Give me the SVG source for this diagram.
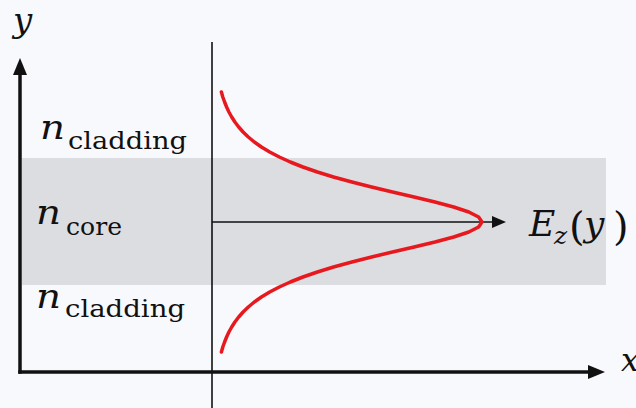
<svg xmlns="http://www.w3.org/2000/svg" width="636" height="408" viewBox="0 0 636 408">
  <defs>
    <style>
      .ax { stroke: #111; stroke-width: 3.5; fill: none; }
      .thin { stroke: #111; stroke-width: 1.6; fill: none; }
      .mi { font-family: "DejaVu Serif", serif; font-style: italic; fill: #111; }
      .up { font-family: "DejaVu Serif", serif; fill: #111; }
    </style>
    <marker id="headBig" viewBox="0 0 17 14" refX="0" refY="7" markerWidth="17" markerHeight="14" markerUnits="userSpaceOnUse" orient="auto">
      <path d="M0,0 L17,7 L0,14 z" fill="#111"/>
    </marker>
    <marker id="headSmall" viewBox="0 0 14 12" refX="0" refY="6" markerWidth="14" markerHeight="12" markerUnits="userSpaceOnUse" orient="auto">
      <path d="M0,0 L14,6 L0,12 z" fill="#111"/>
    </marker>
  </defs>
  <rect x="0" y="0" width="636" height="408" fill="#f8f9fd"/>
  <g id="core-band">
    <rect x="22" y="158" width="584" height="127" fill="#dcdde1"/>
  </g>
  <g id="connectors">
    <line class="thin" x1="212" y1="42" x2="212" y2="408"/>
    <line class="thin" x1="212" y1="222" x2="492" y2="222" marker-end="url(#headSmall)"/>
    <line class="ax" x1="20" y1="373.7" x2="20" y2="75" marker-end="url(#headBig)"/>
    <line class="ax" x1="18.3" y1="372" x2="588" y2="372" marker-end="url(#headBig)"/>
  </g>
  <g id="field-curve">
    <polyline fill="none" stroke="#e8191e" stroke-width="3.5" stroke-linecap="round" stroke-linejoin="round"
      points="221.4,92 222.8,97 224.6,102 226.6,107 228.9,112 231.7,117 234.9,122 238.7,127 243.1,132 248.3,137 254.3,142 261.4,147 269.7,152 279.3,157 290.3,162 302.9,167 317.4,172 333.5,177 351.9,182 371.6,187 392.5,192 414.1,197 435,202 453.7,207 468.8,212 478.6,217 482,222 478.6,227 468.8,232 453.7,237 435,242 414.1,247 392.5,252 371.6,257 351.9,262 333.5,267 317.4,272 302.9,277 290.3,282 279.3,287 269.7,292 261.4,297 254.3,302 248.3,307 243.1,312 238.7,317 234.9,322 231.7,327 228.9,332 226.6,337 224.6,342 222.8,347 221.4,352"/>
  </g>
  <g id="label-y">
    <text class="mi" x="13" y="32" font-size="34">y</text>
  </g>
  <g id="label-x">
    <text class="mi" x="621" y="371" font-size="32">x</text>
  </g>
  <g id="label-cladding-top">
    <text class="mi" x="40" y="139" font-size="34" textLength="25" lengthAdjust="spacingAndGlyphs">n</text>
    <text class="up" x="68" y="149" font-size="25" textLength="119" lengthAdjust="spacingAndGlyphs">cladding</text>
  </g>
  <g id="label-core">
    <text class="mi" x="36" y="224" font-size="34" textLength="25" lengthAdjust="spacingAndGlyphs">n</text>
    <text class="up" x="66" y="235" font-size="25" textLength="56" lengthAdjust="spacingAndGlyphs">core</text>
  </g>
  <g id="label-cladding-bottom">
    <text class="mi" x="36" y="308" font-size="34" textLength="25" lengthAdjust="spacingAndGlyphs">n</text>
    <text class="up" x="65" y="317" font-size="25" textLength="120" lengthAdjust="spacingAndGlyphs">cladding</text>
  </g>
  <g id="label-Ez">
    <text class="mi" x="529" y="236" font-size="36">E</text>
    <text class="mi" x="554" y="244" font-size="25">z</text>
    <text class="up" x="569" y="240" font-size="40">(</text>
    <text class="mi" x="584" y="236" font-size="36">y</text>
    <text class="up" x="613" y="240" font-size="40">)</text>
  </g>
</svg>
